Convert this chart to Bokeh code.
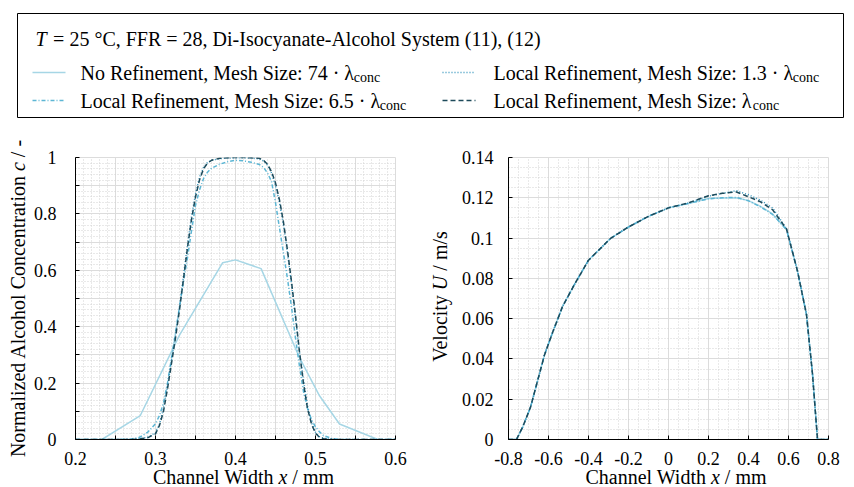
import json
import math
from bokeh.plotting import figure
from bokeh.models import Range1d, FixedTicker, Label, BoxAnnotation, CustomJSTickFormatter, Div
from bokeh.layouts import column, row
from bokeh.embed import file_html
from bokeh.resources import INLINE

# ---------------- data ----------------
series_names = ["No Refinement, Mesh Size: 74 · λ",
                "Local Refinement, Mesh Size: 6.5 · λ",
                "Local Refinement, Mesh Size: 1.3 · λ",
                "Local Refinement, Mesh Size: λ"]
legend_title = "= 25 °C, FFR = 28, Di-Isocyanate-Alcohol System (11), (12)"

# concentration profile, no refinement (coarse mesh)
conc_x_nr = [0.2, 0.233, 0.281, 0.33, 0.384, 0.4, 0.432, 0.48, 0.505, 0.53, 0.578, 0.6]
conc_nr = [0.0, 0.0, 0.085, 0.37, 0.627, 0.637, 0.606, 0.29, 0.155, 0.055, 0.0, 0.0]

# concentration profile, refined meshes
conc_x = [0.2, 0.25, 0.27, 0.28, 0.29, 0.30, 0.305, 0.31, 0.315, 0.32, 0.325, 0.33, 0.335,
          0.34, 0.345, 0.35, 0.355, 0.36, 0.365, 0.37, 0.38, 0.39, 0.40, 0.41, 0.42, 0.43,
          0.435, 0.44, 0.445, 0.45, 0.455, 0.46, 0.465, 0.47, 0.475, 0.48, 0.485, 0.49,
          0.495, 0.50, 0.505, 0.51, 0.52, 0.53, 0.6]
conc_65 = [0.0, 0.0, 0.002, 0.008, 0.025, 0.056, 0.085, 0.13, 0.20, 0.29, 0.38, 0.47, 0.56,
           0.645, 0.74, 0.83, 0.885, 0.925, 0.948, 0.962, 0.976, 0.985, 0.99, 0.988, 0.983, 0.975,
           0.965, 0.945, 0.915, 0.84, 0.75, 0.66, 0.57, 0.47, 0.36, 0.26, 0.17, 0.11,
           0.07, 0.045, 0.027, 0.014, 0.004, 0.0, 0.0]
conc_13 = [0.0, 0.0, 0.0, 0.003, 0.008, 0.024, 0.055, 0.11, 0.19, 0.28, 0.37, 0.47, 0.58,
           0.69, 0.79, 0.87, 0.93, 0.965, 0.982, 0.99, 0.996, 0.998, 0.999, 0.999, 0.998, 0.995,
           0.988, 0.973, 0.945, 0.90, 0.84, 0.76, 0.66, 0.55, 0.43, 0.31, 0.21, 0.12,
           0.06, 0.026, 0.01, 0.004, 0.001, 0.0, 0.0]
conc_lam = [0.0, 0.0, 0.0, 0.002, 0.006, 0.02, 0.05, 0.10, 0.18, 0.27, 0.36, 0.46, 0.57,
            0.68, 0.78, 0.86, 0.92, 0.96, 0.98, 0.99, 0.997, 0.999, 1.0, 1.0, 0.999, 0.997,
            0.99, 0.976, 0.95, 0.91, 0.85, 0.77, 0.67, 0.56, 0.44, 0.31, 0.20, 0.11,
            0.055, 0.022, 0.008, 0.003, 0.0, 0.0, 0.0]

# velocity profile
vel_x = [-0.8, -0.76, -0.73, -0.69, -0.62, -0.58, -0.53, -0.47, -0.4, -0.29, -0.2, -0.1, 0.0,
         0.1, 0.2, 0.27, 0.34, 0.4, 0.46, 0.52, 0.59, 0.645, 0.69, 0.72, 0.745, 0.8]
vel_nr = [0, 0, 0.006, 0.016, 0.042, 0.053, 0.066, 0.077, 0.089, 0.0998, 0.1055, 0.1108, 0.115,
          0.1172, 0.1196, 0.1199, 0.12, 0.1186, 0.1157, 0.112, 0.1043, 0.0836, 0.062, 0.0325, 0.0, 0.0]
vel_65 = [0, 0, 0.006, 0.016, 0.042, 0.053, 0.066, 0.077, 0.089, 0.0998, 0.1055, 0.1108, 0.115,
          0.1172, 0.1195, 0.12, 0.1202, 0.1185, 0.1155, 0.1118, 0.1042, 0.0836, 0.062, 0.0325, 0.0, 0.0]
vel_13 = [0, 0, 0.006, 0.016, 0.042, 0.053, 0.066, 0.077, 0.089, 0.0998, 0.1055, 0.1108, 0.115,
          0.1174, 0.1208, 0.1222, 0.1235, 0.1215, 0.1188, 0.115, 0.1047, 0.0836, 0.062, 0.0325, 0.0, 0.0]
vel_lam = [0, 0, 0.006, 0.016, 0.042, 0.053, 0.066, 0.077, 0.089, 0.0998, 0.1055, 0.1108, 0.115,
           0.1175, 0.121, 0.1222, 0.1229, 0.1205, 0.118, 0.1141, 0.1045, 0.0836, 0.062, 0.0325, 0.0, 0.0]

# ticks
cx_ticks = [0.2, 0.25, 0.3, 0.35, 0.4, 0.45, 0.5, 0.55, 0.6]
cx_labels = ["0.2", "", "0.3", "", "0.4", "", "0.5", "", "0.6"]
cy_ticks = [0.0, 0.1, 0.2, 0.3, 0.4, 0.5, 0.6, 0.7, 0.8, 0.9, 1.0]
cy_labels = ["0", "", "0.2", "", "0.4", "", "0.6", "", "0.8", "", "1"]
vx_ticks = [-0.8, -0.6, -0.4, -0.2, 0.0, 0.2, 0.4, 0.6, 0.8]
vx_labels = ["-0.8", "-0.6", "-0.4", "-0.2", "0", "0.2", "0.4", "0.6", "0.8"]
vy_ticks = [0.0, 0.02, 0.04, 0.06, 0.08, 0.1, 0.12, 0.14]
vy_labels = ["0", "0.02", "0.04", "0.06", "0.08", "0.1", "0.12", "0.14"]

# axis titles
x_title = "Channel Width <i>x</i> / mm"
cy_title = "Normalized Alcohol Concentration <i>c</i> / -"
vy_title = "Velocity <i>U</i> / m/s"

# ---------------- styles ----------------
FONT = "Liberation Serif"
styles = [
    dict(line_color="#a6d6e5", line_width=1.5, line_dash="solid"),
    dict(line_color="#5db6d4", line_width=1.5, line_dash="4 2 1 2"),
    dict(line_color="#3495bd", line_width=1.5, line_dash="1 2"),
    dict(line_color="#1d4a5a", line_width=1.5, line_dash="5 3"),
]

W_REG = {' ': 250, '!': 333, '(': 333, ')': 333, ',': 250, '-': 333, '.': 250, '/': 278,
         ':': 278, '=': 564, '°': 400, '·': 250, 'λ': 550,
         'A': 722, 'B': 667, 'C': 667, 'D': 722, 'E': 611, 'F': 556, 'G': 722, 'H': 722,
         'I': 333, 'J': 389, 'K': 722, 'L': 611, 'M': 889, 'N': 722, 'O': 722, 'P': 556,
         'Q': 722, 'R': 667, 'S': 556, 'T': 611, 'U': 722, 'V': 722, 'W': 944, 'X': 722,
         'Y': 722, 'Z': 611,
         'a': 444, 'b': 500, 'c': 444, 'd': 500, 'e': 444, 'f': 333, 'g': 500, 'h': 500,
         'i': 278, 'j': 278, 'k': 500, 'l': 278, 'm': 778, 'n': 500, 'o': 500, 'p': 500,
         'q': 500, 'r': 333, 's': 389, 't': 278, 'u': 500, 'v': 500, 'w': 722, 'x': 500,
         'y': 500, 'z': 444}
W_IT = {'T': 556, 'c': 444, 'x': 444, 'U': 722}


def tw(s, size, italic=False):
    tot = 0
    for ch in s:
        if italic and ch in W_IT:
            tot += W_IT[ch]
        else:
            tot += W_REG.get(ch, 500)
    return tot * size / 1000.0


def mk_label(x, y, text, size, italic=False, align="left"):
    return Label(x=x, y=y, text=text, text_font=FONT, text_font_size=f"{size}px",
                 text_font_style="italic" if italic else "normal",
                 text_baseline="middle", text_align=align, text_color="black")


def vlabel(html, w, h, dx, dy, size):
    inner = ('<div style="width:%dpx;height:%dpx;display:flex;align-items:center;'
             'justify-content:center;overflow:visible;">'
             '<div style="flex:none;white-space:nowrap;font-family:\'%s\';font-size:%dpx;'
             'line-height:1;color:black;transform:translate(%.1fpx,%.1fpx) rotate(-90deg);">%s</div></div>'
             % (w, h, FONT, size, dx, dy, html))
    return Div(text=inner, width=w, height=h, margin=0)


def hlabels(html, centers, w, h, cy, size):
    spans = "".join(
        '<div style="position:absolute;left:%.1fpx;top:%.1fpx;transform:translate(-50%%,-50%%);'
        'white-space:nowrap;font-family:\'%s\';font-size:%dpx;line-height:1;color:black;">%s</div>'
        % (cx, cy, FONT, size, html) for cx in centers)
    inner = '<div style="position:relative;width:%dpx;height:%dpx;overflow:visible;">%s</div>' % (w, h, spans)
    return Div(text=inner, width=w, height=h, margin=0)


def fmt(ticks, labels):
    code = ("const t=%s; const l=%s; for (let i=0;i<t.length;i++){ if (Math.abs(t[i]-tick)<1e-9) return l[i]; } return '';"
            % (json.dumps(ticks), json.dumps(labels)))
    return CustomJSTickFormatter(code=code)


def subdiv(ticks, n):
    out = []
    for a, b in zip(ticks[:-1], ticks[1:]):
        for k in range(1, n):
            out.append(a + (b - a) * k / n)
    return out


def strip(w, h):
    s = figure(width=w, height=h, x_range=Range1d(0, w), y_range=Range1d(0, h),
               min_border=0, output_backend="svg", toolbar_location=None)
    s.axis.visible = False
    s.grid.visible = False
    s.outline_line_color = None
    return s


def style_plot(p, xt, xl, yt, yl, xsub, ysub, ystand):
    p.outline_line_color = "#dcdcdc"
    p.xaxis.ticker = FixedTicker(ticks=xt, minor_ticks=subdiv(xt, xsub))
    p.yaxis.ticker = FixedTicker(ticks=yt, minor_ticks=subdiv(yt, ysub))
    p.xaxis.formatter = fmt(xt, xl)
    p.yaxis.formatter = fmt(yt, yl)
    for ax in (p.xaxis[0], p.yaxis[0]):
        ax.axis_line_color = "black"
        ax.axis_line_width = 1
        ax.major_tick_in = 4
        ax.major_tick_out = 0
        ax.major_tick_line_color = "black"
        ax.minor_tick_line_color = None
        ax.major_label_text_font = FONT
        ax.major_label_text_font_size = "18px"
        ax.major_label_text_color = "black"
        ax.axis_label_standoff = 0
    p.xaxis.major_label_standoff = 8
    p.yaxis.major_label_standoff = ystand
    for g in (p.xgrid[0], p.ygrid[0]):
        g.grid_line_color = "#dcdcdc"
        g.grid_line_width = 1
        g.minor_grid_line_color = "#d2d2d2"
        g.minor_grid_line_dash = "1 2"
        g.minor_grid_line_width = 1


TS = 20
TOTAL_W = 844

# ---------------- legend panel (page y = 125 - data y) ----------------
LGH = 125
lg = strip(TOTAL_W, LGH)
lg.add_layout(BoxAnnotation(left=17, right=843, bottom=LGH - 117, top=LGH - 13, fill_color=None,
                            line_color="black", line_width=1, line_alpha=1))
lg.add_layout(mk_label(35, LGH - 38, "T", TS, True))
lg.add_layout(mk_label(35 + tw("T", TS, True) + tw(" ", TS) + 1.5, LGH - 38, legend_title, TS))

pos = [(32, 80, 72), (32, 80, 100), (442, 493, 72), (442, 493, 100)]
for i, name in enumerate(series_names):
    sx, tx, py = pos[i]
    lg.line([sx, sx + 33], [LGH - py, LGH - py], **styles[i])
    lg.add_layout(mk_label(tx, LGH - py, name, TS))
    lg.add_layout(mk_label(tx + tw(name, TS), LGH - py - 5, "conc", 14))

# ---------------- plots row (page 125..472) ----------------
PH_TOP, PH_FR, PH_BOT = 32, 282, 33
PH = PH_TOP + PH_FR + PH_BOT

# rotated axis titles (centre at page x=18, y=298 and x=440, y=296)
ylab1 = vlabel(cy_title, 28, PH, 18 - 14, (298 - LGH) - PH / 2.0, TS)

p1 = figure(width=47 + 320 + 30, height=PH, min_border_left=47, min_border_right=30,
            min_border_top=PH_TOP, min_border_bottom=PH_BOT, x_range=Range1d(0.2, 0.6),
            y_range=Range1d(0, 1), output_backend="svg", toolbar_location=None)
style_plot(p1, cx_ticks, cx_labels, cy_ticks, cy_labels, 5, 5, 15)
p1.line(conc_x_nr, conc_nr, **styles[0])
p1.line(conc_x, conc_65, **styles[1])
p1.line(conc_x, conc_13, **styles[2])
p1.line(conc_x, conc_lam, **styles[3])

ylab2 = vlabel(vy_title, 30, PH, 0, (296 - LGH) - PH / 2.0, TS)

p2 = figure(width=53 + 320 + 16, height=PH, min_border_left=53, min_border_right=16,
            min_border_top=PH_TOP, min_border_bottom=PH_BOT, x_range=Range1d(-0.8, 0.8),
            y_range=Range1d(0, 0.14), output_backend="svg", toolbar_location=None)
style_plot(p2, vx_ticks, vx_labels, vy_ticks, vy_labels, 4, 4, 11)
p2.line(vel_x, vel_nr, **styles[0])
p2.line(vel_x, vel_65, **styles[1])
p2.line(vel_x, vel_13, **styles[2])
p2.line(vel_x, vel_lam, **styles[3])

# ---------------- x titles (page 472..487, text centred at y=477) ----------------
XH = 15
xl = hlabels(x_title, [243.5, 676], TOTAL_W, XH, 477 - 472, TS)

layout = column(lg, row(ylab1, p1, ylab2, p2), xl)
open("out.html", "w").write(file_html(layout, INLINE))
